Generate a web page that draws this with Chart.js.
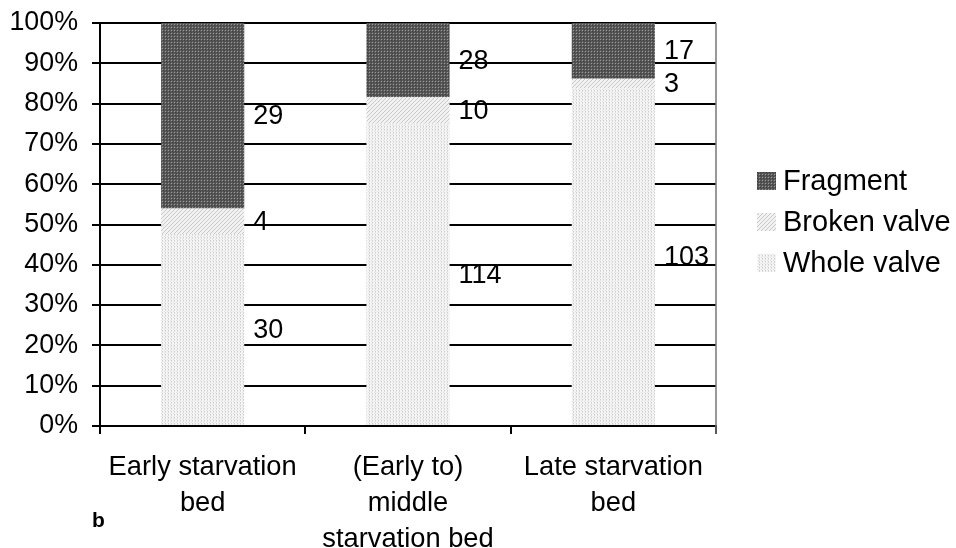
<!DOCTYPE html>
<html>
<head>
<meta charset="utf-8">
<script src="https://cdn.jsdelivr.net/npm/chart.js@4"></script>
<style>
  html, body { margin: 0; padding: 0; background: #fff; }
  #wrap { width: 956px; height: 548px; position: relative; }
</style>
</head>
<body>
<div id="wrap"><canvas id="valveChart"></canvas></div>
<script>
// valve counts per bed
const categories = [['Early starvation', 'bed'], ['(Early to)', 'middle', 'starvation bed'], ['Late starvation', 'bed']];
const wholeValve = [30, 114, 103];
const brokenValve = [4, 10, 3];
const fragment = [29, 28, 17];
const seriesNames = ['Whole valve', 'Broken valve', 'Fragment'];
const yTickValues = [0, 10, 20, 30, 40, 50, 60, 70, 80, 90, 100];

const FONT = "'Liberation Sans', Arial, sans-serif";

// small tiled fills, like the old office hatch patterns
function makePattern(size, bg, dots) {
  const c = document.createElement('canvas');
  c.width = size; c.height = size;
  const g = c.getContext('2d');
  g.fillStyle = bg;
  g.fillRect(0, 0, size, size);
  dots.forEach(d => {
    g.fillStyle = d[2];
    g.fillRect(d[0], d[1], 1, 1);
  });
  return g.createPattern(c, 'repeat');
}

const fragmentFill = makePattern(3, '#5a5a5a', [[0, 0, '#9a9a9a'], [1, 1, '#3c3c3c'], [2, 2, '#444444']]);
const brokenFill = makePattern(4, '#f2f2f2', [[3, 0, '#c8c8c8'], [2, 1, '#c8c8c8'], [1, 2, '#c8c8c8'], [0, 3, '#c8c8c8']]);
const wholeFill = makePattern(3, '#f5f5f5', [[0, 0, '#cdcdcd'], [0, 1, '#dddddd'], [2, 2, '#e0e0e0']]);
const fills = [wholeFill, brokenFill, fragmentFill];

// stack shares (percent of each bed's total)
const counts = [wholeValve, brokenValve, fragment];
const totals = categories.map((_, i) => counts.reduce((s, arr) => s + arr[i], 0));
const shares = counts.map(arr => arr.map((v, i) => v / totals[i] * 100));

// count labels to the right of each segment
const countLabels = {
  id: 'countLabels',
  afterDatasetsDraw(chart) {
    const ctx = chart.ctx;
    ctx.save();
    ctx.font = '27px ' + FONT;
    ctx.fillStyle = '#000';
    ctx.textAlign = 'left';
    ctx.textBaseline = 'middle';
    chart.data.datasets.forEach((ds, di) => {
      chart.getDatasetMeta(di).data.forEach((bar, i) => {
        const mid = (bar.y + bar.base) / 2;
        ctx.fillText(String(counts[di][i]), bar.x + bar.width / 2 + 9, mid + 1);
      });
    });
    ctx.restore();
  }
};

// right frame line, legend and panel letter
const extras = {
  id: 'extras',
  afterDraw(chart) {
    const ctx = chart.ctx;
    const a = chart.chartArea;
    ctx.save();
    ctx.strokeStyle = '#777';
    ctx.lineWidth = 1.5;
    ctx.beginPath();
    ctx.moveTo(a.right, a.top);
    ctx.lineTo(a.right, a.bottom + 8);
    ctx.stroke();

    // legend, top entry is the top of the stack
    ctx.font = '29px ' + FONT;
    ctx.textBaseline = 'middle';
    ctx.textAlign = 'left';
    for (let k = 2; k >= 0; k--) {
      const y = 181 + (2 - k) * 41;
      ctx.fillStyle = fills[k];
      ctx.fillRect(757, y - 9, 19, 18);
      ctx.fillStyle = '#000';
      ctx.fillText(seriesNames[k], 783, y + 1);
    }

    ctx.font = 'bold 21px ' + FONT;
    ctx.fillText('b', 92, 521);
    ctx.restore();
  }
};

new Chart(document.getElementById('valveChart'), {
  type: 'bar',
  data: {
    labels: categories,
    datasets: seriesNames.map((name, k) => ({
      label: name,
      data: shares[k],
      backgroundColor: fills[k],
      borderWidth: 0,
      categoryPercentage: 1,
      barPercentage: 0.405
    }))
  },
  options: {
    responsive: true,
    maintainAspectRatio: false,
    animation: false,
    layout: { padding: { top: 23, right: 240, left: 0, bottom: 0 } },
    plugins: {
      legend: { display: false },
      tooltip: { enabled: false }
    },
    scales: {
      x: {
        stacked: true,
        grid: { drawOnChartArea: false, drawTicks: true, tickLength: 8, color: '#000', lineWidth: 2 },
        border: { color: '#000', width: 2 },
        ticks: { color: '#000', font: { family: FONT, size: 27.3, lineHeight: 1.33 }, padding: 15, maxRotation: 0, autoSkip: false },
        afterFit(scale) { scale.height = 122; }
      },
      y: {
        stacked: true,
        min: 0,
        max: 100,
        afterBuildTicks(scale) { scale.ticks = yTickValues.map(v => ({ value: v })); },
        grid: { color: '#000', lineWidth: 2, tickLength: 8 },
        border: { color: '#000', width: 2 },
        ticks: { color: '#000', font: { family: FONT, size: 26.8 }, padding: 14, callback: v => v + '%' },
        afterFit(scale) {
          scale.width = 100;
          scale.paddingTop = 0;
          scale.paddingBottom = 0;
        }
      }
    }
  },
  plugins: [countLabels, extras]
});
</script>
</body>
</html>
